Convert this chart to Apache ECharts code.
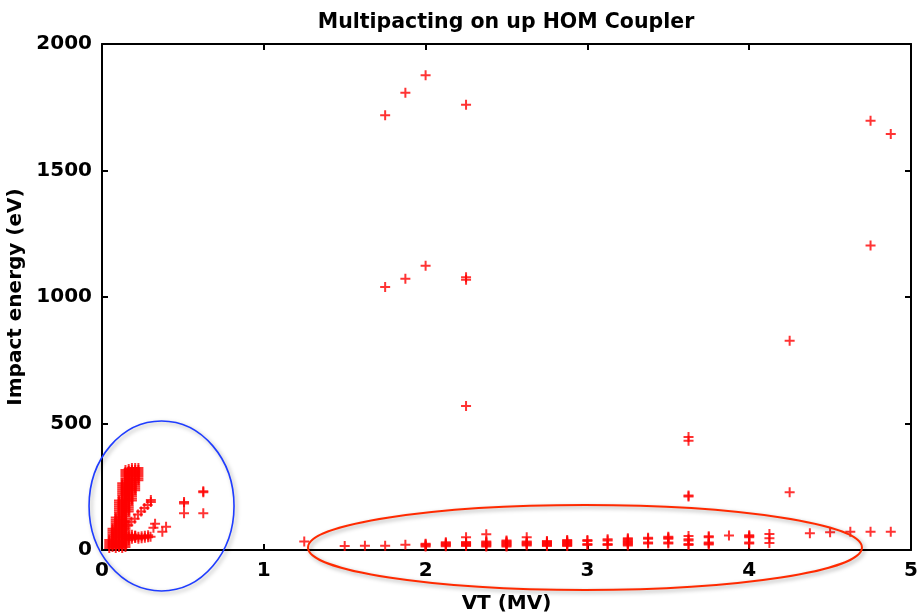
<!DOCTYPE html>
<html>
<head>
<meta charset="utf-8">
<script src="https://cdn.jsdelivr.net/npm/echarts@6/dist/echarts.min.js"></script>
<style>
html, body { margin: 0; padding: 0; background: #fff; }
#grf_1 { width: 922px; height: 614px; }
</style>
</head>
<body>
<div id="grf_1"></div>
<script>
// Bloco denso da esquerda: cada coluna de VT com as energias de impacto
var clusterVT = [0.045, 0.065, 0.085, 0.105, 0.125, 0.145, 0.165, 0.185, 0.205, 0.225];
var clusterEnergy = [
	[8, 16, 24, 32, 40],
	[12, 20, 28, 36, 44, 52, 60, 68, 76, 84],
	[8, 16, 24, 32, 40, 48, 56, 64, 72, 80, 88, 96, 104, 112, 120, 128],
	[12, 20, 28, 36, 44, 52, 60, 68, 76, 84, 92, 100, 108, 116, 124, 132, 140, 148, 156, 164,
		172, 180, 188, 196],
	[8, 16, 24, 32, 40, 48, 56, 64, 72, 80, 88, 96, 104, 112, 120, 128, 136, 144, 152, 160,
		168, 176, 184, 192, 200, 208, 216, 224, 232, 240, 248, 256, 264],
	[12, 20, 28, 36, 44, 52, 60, 68, 76, 84, 92, 100, 108, 116, 124, 132, 140, 148, 156, 164,
		172, 180, 188, 196, 204, 212, 220, 228, 236, 244, 252, 260, 268, 276, 284, 292, 300, 308, 316],
	[40, 48, 56, 152, 160, 168, 176, 184, 192, 200, 208, 216, 224, 232, 240, 248, 256, 264, 272,
		280, 288, 296, 304, 312, 320],
	[44, 52, 60, 196, 204, 212, 220, 228, 236, 244, 252, 260, 268, 276, 284, 292, 300, 308, 316, 324],
	[48, 56, 236, 244, 252, 260, 268, 276, 284, 292, 300, 308, 316, 324],
	[276, 284, 292, 300, 308, 316, 324]
];

// Pontos soltos perto da origem [VT, energia]
var lowPoints = [
	[0.162, 98], [0.182, 112], [0.202, 124], [0.222, 140], [0.242, 152],
	[0.262, 166], [0.282, 178], [0.302, 190], [0.302, 198],
	[0.205, 48], [0.205, 56], [0.225, 44], [0.225, 52], [0.245, 46], [0.245, 54],
	[0.265, 48], [0.265, 56], [0.285, 50], [0.285, 58], [0.300, 52],
	[0.318, 88], [0.328, 104], [0.373, 72], [0.396, 92],
	[0.507, 145], [0.507, 184], [0.507, 190],
	[0.626, 145], [0.626, 228], [0.626, 232]
];

// Linha de baixo (VT de 1.25 a 4.875): energias em cada VT
var rowVT = [1.25, 1.5, 1.625, 1.75, 1.875, 2.0, 2.125, 2.25, 2.375, 2.5, 2.625, 2.75, 2.875,
	3.0, 3.125, 3.25, 3.375, 3.5, 3.625, 3.75, 3.875, 4.0, 4.125, 4.375, 4.5, 4.625, 4.75, 4.875];
var rowEnergy = [
	[34], [16], [17], [17], [21],
	[14, 18, 22, 25],
	[15, 19, 23, 27, 31],
	[16, 20, 24, 28, 32, 50],
	[14, 18, 22, 26, 30, 34, 62],
	[14, 18, 22, 26, 30, 34, 38],
	[18, 22, 26, 30, 34, 50],
	[16, 20, 24, 28, 32, 36],
	[16, 20, 24, 28, 32, 36, 40],
	[20, 24, 36, 40],
	[20, 24, 38, 42],
	[18, 22, 26, 30, 34, 38, 42, 46],
	[26, 30, 44, 48],
	[26, 30, 44, 48, 52],
	[20, 24, 38, 42, 55],
	[22, 26, 30, 50, 54],
	[57],
	[26, 30, 50, 54, 58],
	[28, 46, 63],
	[66], [70], [72], [72], [72]
];

// Pontos de alta energia [VT, energia]
var highPoints = [
	[1.75, 1718], [1.875, 1807], [2.0, 1876], [2.25, 1760],
	[1.75, 1040], [1.875, 1072], [2.0, 1124], [2.25, 1078], [2.25, 1068], [2.25, 569],
	[3.625, 447], [3.625, 432], [3.625, 215], [3.625, 211],
	[4.25, 827], [4.25, 228],
	[4.75, 1697], [4.875, 1644], [4.75, 1204]
];

// Regioes marcadas: [VT centro, energia centro, raio VT, raio energia]
var regiaoAzul = [0.368, 174, 0.448, 336];
var regiaoVermelha = [2.985, 10, 1.712, 168];

var grafico = echarts.init(document.getElementById('grf_1'));

function montaDados() {
	var dados = [];
	for (var i = 0; i < clusterVT.length; i++) {
		for (var j = 0; j < clusterEnergy[i].length; j++) {
			dados.push([clusterVT[i], clusterEnergy[i][j]]);
		}
	}
	for (var i = 0; i < lowPoints.length; i++) dados.push(lowPoints[i]);
	for (var i = 0; i < rowVT.length; i++) {
		for (var j = 0; j < rowEnergy[i].length; j++) {
			dados.push([rowVT[i], rowEnergy[i][j]]);
		}
	}
	for (var i = 0; i < highPoints.length; i++) dados.push(highPoints[i]);
	return dados;
}

var fonte = 'DejaVu Sans';
var eixoLinha = { show: true, onZero: false, lineStyle: { color: '#000', width: 2 } };
var eixoTick = { show: true, inside: true, length: 6, lineStyle: { color: '#000', width: 2 } };
var rotulo = { fontFamily: fonte, fontWeight: 'bold', fontSize: 20, color: '#000' };

var opcoes = {
	animation: false,
	backgroundColor: '#fff',
	title: {
		text: 'Multipacting on up HOM Coupler',
		left: 501,
		textAlign: 'center',
		top: 7,
		textStyle: { fontFamily: fonte, fontWeight: 'bold', fontSize: 20.5, color: '#000' }
	},
	grid: { left: 102, right: 11, top: 44, bottom: 64, outerBoundsMode: 'none', containLabel: false },
	xAxis: [{
		type: 'value', min: 0, max: 5, interval: 1, position: 'bottom',
		name: 'VT (MV)', nameLocation: 'middle', nameGap: 44,
		nameTextStyle: rotulo,
		axisLine: eixoLinha, axisTick: eixoTick, splitLine: { show: false },
		axisLabel: Object.assign({ margin: 11, showMinLabel: true, showMaxLabel: true }, rotulo)
	}, {
		type: 'value', min: 0, max: 5, interval: 1, position: 'top',
		axisLine: eixoLinha, axisTick: eixoTick, splitLine: { show: false },
		axisLabel: { show: false }
	}],
	yAxis: [{
		type: 'value', min: 0, max: 2000, interval: 500, position: 'left',
		name: 'Impact energy (eV)', nameLocation: 'middle', nameGap: 67,
		nameTextStyle: rotulo,
		axisLine: eixoLinha, axisTick: eixoTick, splitLine: { show: false },
		axisLabel: Object.assign({ margin: 10, showMinLabel: true, showMaxLabel: true,
			formatter: function (v) { return String(v); } }, rotulo)
	}, {
		type: 'value', min: 0, max: 2000, interval: 500, position: 'right',
		axisLine: eixoLinha, axisTick: eixoTick, splitLine: { show: false },
		axisLabel: { show: false }
	}],
	series: [{
		type: 'scatter',
		xAxisIndex: 0,
		yAxisIndex: 0,
		clip: false,
		symbol: 'path://M4,0h2v10h-2zM0,4h10v2h-10z',
		symbolSize: 10,
		itemStyle: { color: '#ff0000' },
		data: montaDados()
	}]
};

grafico.setOption(opcoes);

// Desenha as elipses das regioes por cima do grafico
function elipse(r, cor, larg) {
	var c = grafico.convertToPixel({ xAxisIndex: 0, yAxisIndex: 0 }, [r[0], r[1]]);
	var e = grafico.convertToPixel({ xAxisIndex: 0, yAxisIndex: 0 }, [r[0] + r[2], r[1] + r[3]]);
	return {
		type: 'ellipse',
		z: 100,
		shape: { cx: c[0], cy: c[1], rx: e[0] - c[0], ry: c[1] - e[1] },
		style: {
			fill: 'none', stroke: cor, lineWidth: larg,
			shadowBlur: 4, shadowColor: 'rgba(0,0,0,0.35)', shadowOffsetX: 2, shadowOffsetY: 2
		}
	};
}

grafico.setOption({
	graphic: [
		elipse(regiaoAzul, '#1f3cff', 1.6),
		elipse(regiaoVermelha, '#ff2a00', 2)
	]
});
</script>
</body>
</html>
